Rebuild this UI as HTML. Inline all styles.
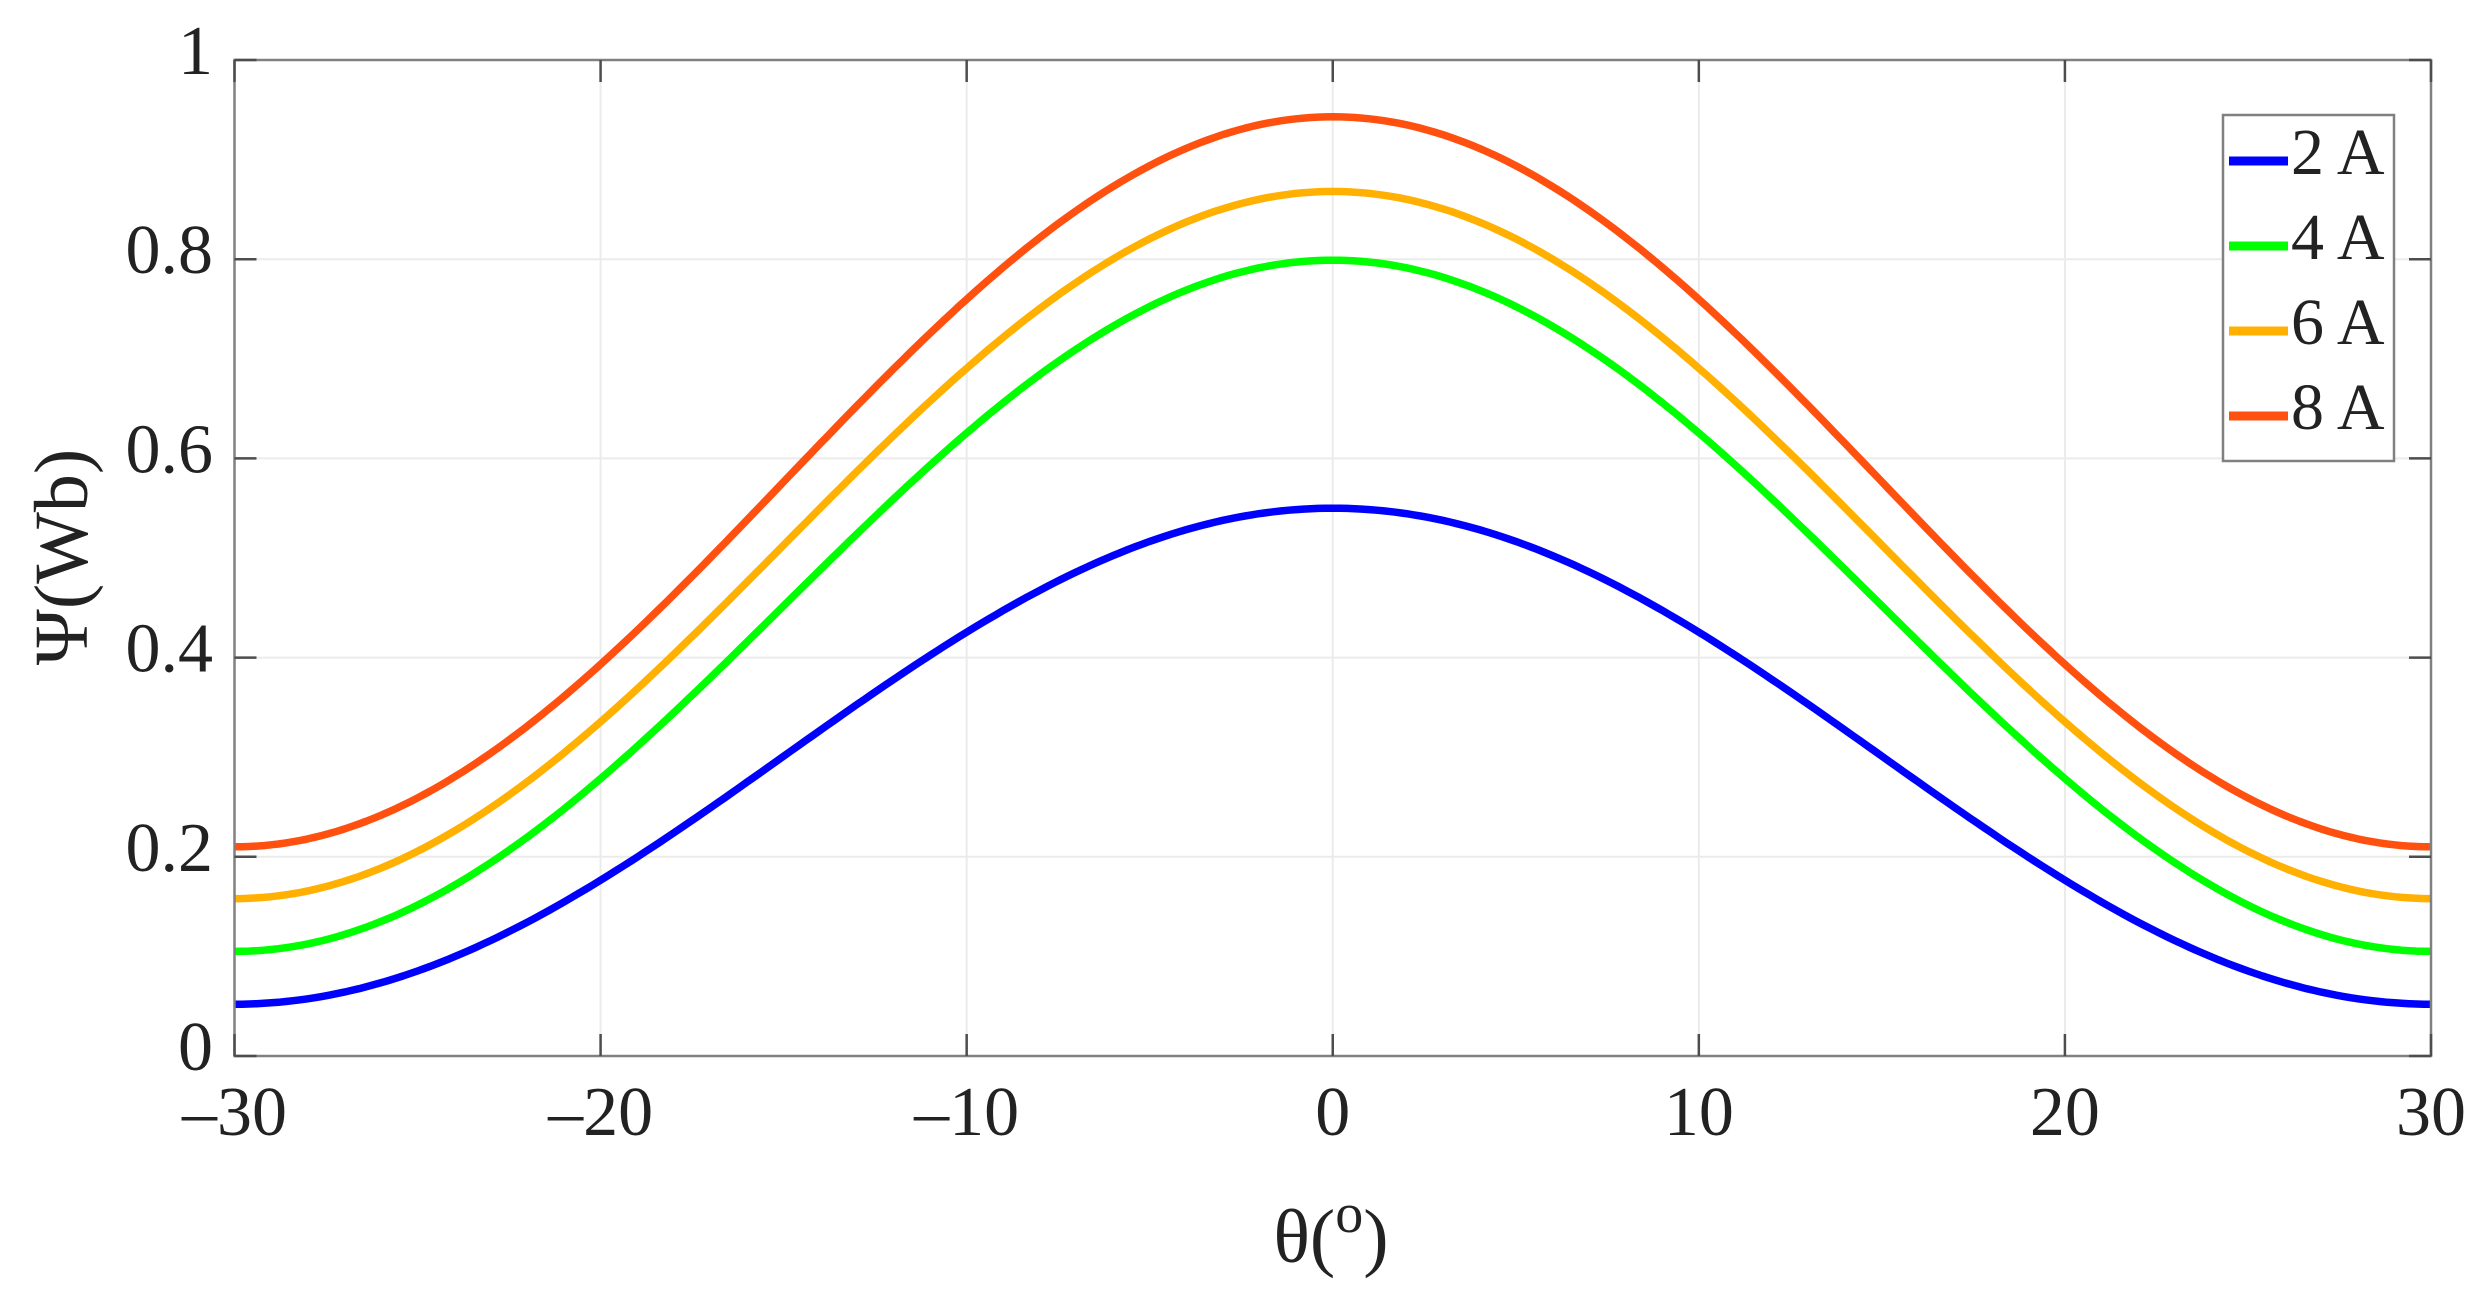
<!DOCTYPE html>
<html><head><meta charset="utf-8"><style>
html,body{margin:0;padding:0;background:#fff;}
svg{display:block;}
text{font-family:"Liberation Serif",serif;fill:#222;}
</style></head><body>
<svg id="s" width="2482" height="1309" viewBox="0 0 2482 1309" xmlns="http://www.w3.org/2000/svg">
<rect width="2482" height="1309" fill="#fff"/>
<g id="grid" stroke="#ebebeb" stroke-width="2"></g>
<g id="curves" fill="none" stroke-width="7.5" stroke-linejoin="round"></g>
<rect x="234.5" y="60" width="2196.5" height="996" fill="none" stroke="#808080" stroke-width="2.5"/>
<g id="ticks" stroke="#4d4d4d" stroke-width="2.5"></g>
<g id="labels" font-size="70"></g>
<text x="1331" y="1262" font-size="76" text-anchor="middle">θ(<tspan dy="-30" font-size="56">o</tspan><tspan dy="30">)</tspan></text>
<text transform="translate(87,557) rotate(-90)" font-size="76" text-anchor="middle">Ψ(Wb)</text>
<rect x="2223" y="115" width="171" height="346" fill="#fff" stroke="#808080" stroke-width="2.5"/>
<g stroke-width="9">
<line x1="2229" y1="161" x2="2288" y2="161" stroke="#0000ff"/>
<line x1="2229" y1="246" x2="2288" y2="246" stroke="#00ff00"/>
<line x1="2229" y1="331" x2="2288" y2="331" stroke="#ffb000"/>
<line x1="2229" y1="416" x2="2288" y2="416" stroke="#ff5010"/>
</g>
<g font-size="66">
<text x="2291" y="174">2 A</text>
<text x="2291" y="259">4 A</text>
<text x="2291" y="344">6 A</text>
<text x="2291" y="429">8 A</text>
</g>
</svg>
<script>
var ns="http://www.w3.org/2000/svg";
var L=234.5,R=2431,T=60,B=1056;
function X(v){return L+(v+30)/60*(R-L);}
function Y(v){return B-v*(B-T);}
function el(p,n,a){var e=document.createElementNS(ns,n);for(var k in a)e.setAttribute(k,a[k]);p.appendChild(e);return e;}
var g=document.getElementById('grid'),t=document.getElementById('ticks'),lb=document.getElementById('labels');
[-30,-20,-10,0,10,20,30].forEach(function(v){
 var x=X(v);
 if(v>-30&&v<30)el(g,'line',{x1:x,y1:T,x2:x,y2:B});
 el(t,'line',{x1:x,y1:B,x2:x,y2:B-22});el(t,'line',{x1:x,y1:T,x2:x,y2:T+22});
 var tx=el(lb,'text',{x:x,y:1135,'text-anchor':'middle'});tx.textContent=(v<0?'\u2013'+(-v):''+v);
});
[0,0.2,0.4,0.6,0.8,1].forEach(function(v){
 var y=Y(v);
 if(v>0&&v<1)el(g,'line',{x1:L,y1:y,x2:R,y2:y});
 el(t,'line',{x1:L,y1:y,x2:L+22,y2:y});el(t,'line',{x1:R,y1:y,x2:R-22,y2:y});
 var tx=el(lb,'text',{x:213,y:y+14,'text-anchor':'end'});tx.textContent=(v==0?'0':v==1?'1':v.toFixed(1));
});
var c=document.getElementById('curves');
[[0.052,0.55,'#0000ff'],[0.105,0.799,'#00ff00'],[0.158,0.868,'#ffb000'],[0.21,0.943,'#ff5010']].forEach(function(s){
 var d='';
 for(var i=0;i<=300;i++){var v=-30+i*0.2;var y=s[0]+(s[1]-s[0])*(1+Math.cos(Math.PI*v/30))/2;d+=(i?'L':'M')+X(v).toFixed(1)+','+Y(y).toFixed(1);}
 el(c,'path',{d:d,stroke:s[2]});
});
</script>
</body></html>
